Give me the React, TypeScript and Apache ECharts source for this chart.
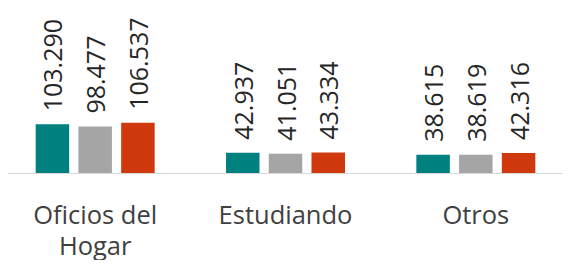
import React, { useEffect, useRef } from "react";
import * as echarts from "echarts";

const categories = ["Oficios del\nHogar", "Estudiando", "Otros"];
const serieA = [103290, 42937, 38615];
const serieB = [98477, 41051, 38619];
const serieC = [106537, 43334, 42316];
const colors = ["#00807F", "#A5A5A5", "#D0380E"];

const fmt = (v: number) => {
  const s = Math.round(v).toString();
  return s.replace(/\B(?=(\d{3})+(?!\d))/g, ".");
};

export default function App() {
  const ref = useRef<HTMLDivElement>(null);
  useEffect(() => {
    if (!ref.current) return;
    const chart = echarts.init(ref.current, null, { renderer: "svg" });
    const label = {
      show: true,
      position: "top" as const,
      rotate: 90,
      align: "left" as const,
      verticalAlign: "middle" as const,
      distance: 13,
      fontFamily: "Open Sans",
      fontSize: 25,
      color: "#262626",
      formatter: (p: any) => fmt(p.value),
    };
    const mk = (data: number[], i: number) => ({
      type: "bar" as const,
      data,
      barWidth: 33.5,
      barGap: "27.6%",
      itemStyle: { color: colors[i] },
      label,
    });
    chart.setOption({
      animation: false,
      grid: { left: -1, right: -8, top: 0, bottom: 95, containLabel: false },
      xAxis: {
        type: "category",
        data: categories,
        axisTick: { show: false },
        axisLine: { lineStyle: { color: "#D9D9D9", width: 1 } },
        axisLabel: {
          fontFamily: "Open Sans",
          fontSize: 25.5,
          lineHeight: 31,
          color: "#404040",
          margin: 25,
          interval: 0,
        },
      },
      yAxis: {
        type: "value",
        min: 0,
        max: 367000,
        show: false,
        splitLine: { show: false },
      },
      series: [mk(serieA, 0), mk(serieB, 1), mk(serieC, 2)],
    });
    return () => chart.dispose();
  }, []);
  return <div ref={ref} style={{ width: 571, height: 268, margin: -8 }} />;
}
